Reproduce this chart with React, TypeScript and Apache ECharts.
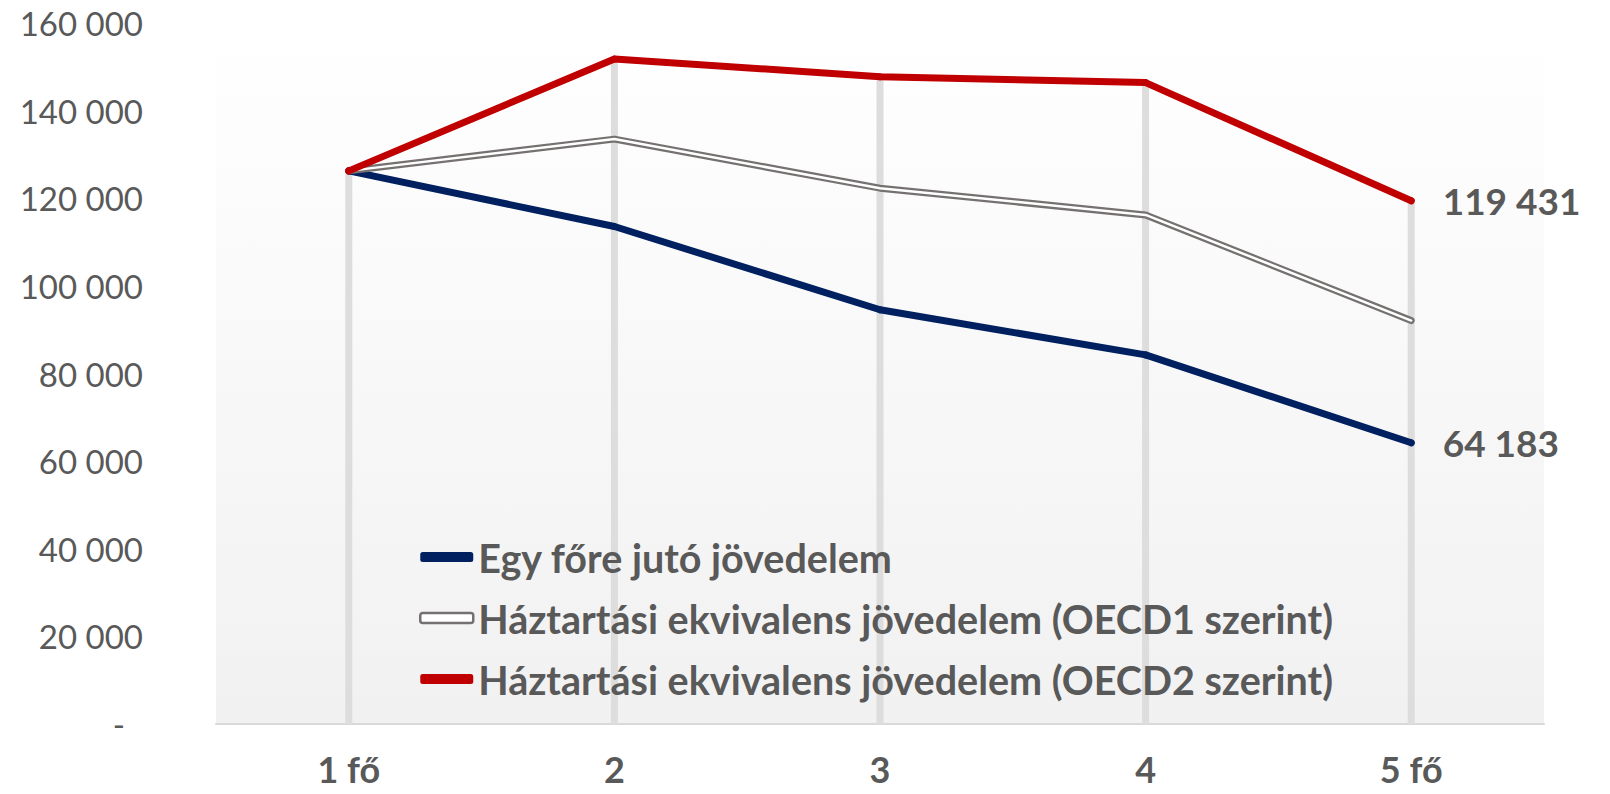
import React, { useEffect, useRef } from "react";
import * as echarts from "echarts";

const categories = ["1 fő", "2", "3", "4", "5 fő"];
const perCapita = [126250, 113550, 94550, 84250, 64183];
const oecd1 = [126250, 133500, 122300, 116200, 92080];
const oecd2 = [126250, 151800, 147750, 146400, 119431];

const nameBlue = "Egy főre jutó jövedelem";
const nameGray = "Háztartási ekvivalens jövedelem (OECD1 szerint)";
const nameRed = "Háztartási ekvivalens jövedelem (OECD2 szerint)";

const FONT = "Lato, 'Noto Sans', sans-serif";
const TEXT = "#595959";

function fmt(v: number): string {
  return Math.round(v).toString().replace(/\B(?=(\d{3})+(?!\d))/g, " ");
}

function withLastLabel(values: number[]) {
  return values.map((v, i) =>
    i === values.length - 1
      ? {
          value: v,
          label: {
            show: true,
            position: "right",
            distance: 28,
            formatter: (p: any) => fmt(p.value),
            fontFamily: FONT,
            fontSize: 37,
            fontWeight: "bold",
            color: TEXT,
          },
        }
      : v
  );
}

export default function App() {
  const ref = useRef<HTMLDivElement>(null);
  useEffect(() => {
    if (!ref.current) return;
    const chart = echarts.init(ref.current, undefined, { renderer: "svg" });
    const drop = categories.map((_, i) => Math.max(perCapita[i], oecd1[i], oecd2[i]));
    chart.setOption({
      animation: false,
      backgroundColor: "#ffffff",
      grid: {
        left: 216,
        right: 66,
        top: 23,
        bottom: 70,
        show: true,
        borderWidth: 0,
        backgroundColor: new echarts.graphic.LinearGradient(0, 0, 0, 1, [
          { offset: 0, color: "#ffffff" },
          { offset: 1, color: "#f1f1f1" },
        ]),
      },
      legend: {
        orient: "vertical",
        left: 414,
        top: 532,
        itemWidth: 53,
        itemHeight: 10,
        itemGap: 21,
        selectedMode: false,
        textStyle: { fontFamily: FONT, fontSize: 39.5, fontWeight: "bold", color: TEXT },
        data: [
          { name: nameBlue, icon: "roundRect", itemStyle: { color: "#002060" } },
          {
            name: nameGray,
            icon: "roundRect",
            itemStyle: { color: "#ffffff", borderColor: "#767171", borderWidth: 2.5 },
          },
          { name: nameRed, icon: "roundRect", itemStyle: { color: "#C00000" } },
        ],
      },
      xAxis: {
        type: "category",
        data: categories,
        boundaryGap: true,
        axisLine: { show: true, lineStyle: { color: "#d9d9d9", width: 2 } },
        axisTick: { show: false },
        splitLine: { show: false },
        axisLabel: {
          margin: 30,
          lineHeight: 30,
          fontFamily: FONT,
          fontSize: 36,
          fontWeight: "bold",
          color: TEXT,
        },
      },
      yAxis: {
        type: "value",
        min: 0,
        max: 160000,
        interval: 20000,
        axisLine: { show: false },
        axisTick: { show: false },
        splitLine: { show: false },
        axisLabel: {
          margin: 73,
          fontFamily: FONT,
          fontSize: 33,
          color: TEXT,
          formatter: (v: number) => (v === 0 ? "{d|-}" : fmt(v)),
          rich: {
            d: { fontFamily: FONT, fontSize: 33, color: TEXT, padding: [0, 18, 0, 0] },
          },
        },
      },
      series: [
        {
          name: "drop",
          type: "bar",
          data: drop,
          barWidth: 7,
          silent: true,
          itemStyle: { color: "#dddddd" },
          z: 1,
        },
        {
          name: nameBlue,
          type: "line",
          data: withLastLabel(perCapita),
          symbol: "circle",
          symbolSize: 7,
          showSymbol: true,
          color: "#002060",
          itemStyle: { color: "#002060" },
          lineStyle: { color: "#002060", width: 7, cap: "round", join: "round" },
          z: 3,
        },
        {
          name: nameGray,
          type: "line",
          data: oecd1,
          symbol: "none",
          color: "#767171",
          lineStyle: { color: "#767171", width: 7, cap: "round", join: "round" },
          z: 4,
        },
        {
          name: "oecd1-inner",
          type: "line",
          data: oecd1,
          symbol: "none",
          silent: true,
          lineStyle: { color: "#ffffff", width: 2.5, cap: "round", join: "round" },
          z: 5,
        },
        {
          name: nameRed,
          type: "line",
          data: withLastLabel(oecd2),
          symbol: "circle",
          symbolSize: 7,
          showSymbol: true,
          color: "#C00000",
          itemStyle: { color: "#C00000" },
          lineStyle: { color: "#C00000", width: 7, cap: "round", join: "round" },
          z: 6,
        },
      ],
    });
    return () => chart.dispose();
  }, []);
  return (
    <div
      ref={ref}
      style={{ position: "fixed", left: 0, top: 0, width: 1610, height: 794 }}
    />
  );
}
